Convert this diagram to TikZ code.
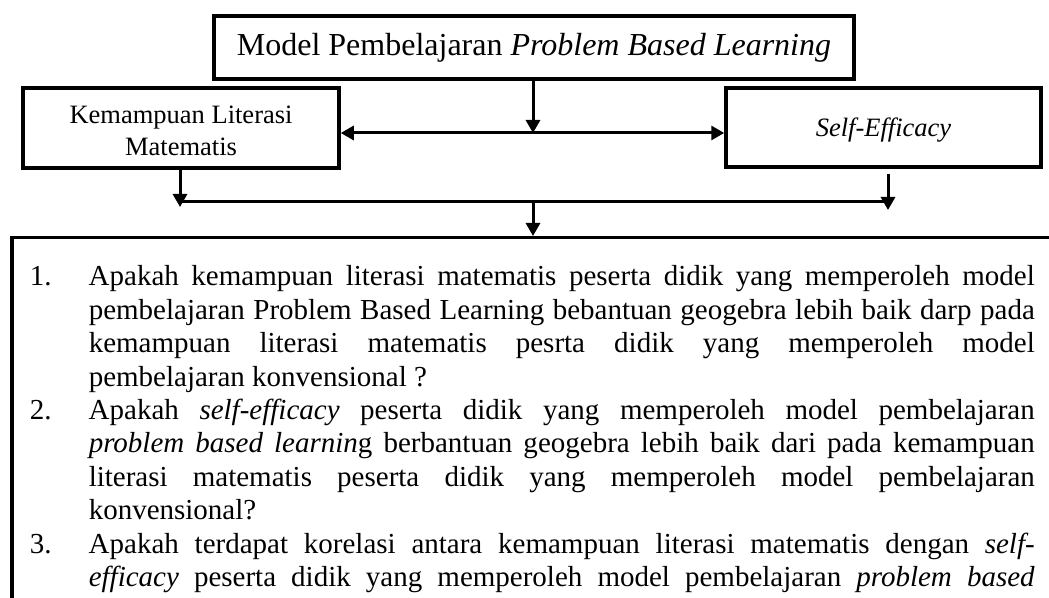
\documentclass[tikz,border=0pt]{standalone}
\usepackage{fontspec}
\setmainfont{Liberation Serif}
\usetikzlibrary{arrows.meta}
\newcommand\qitem[2]{\par\hangindent=59bp\hangafter=1\noindent\makebox[59bp][l]{#1}#2\par}
\begin{document}
\begin{tikzpicture}[x=1bp,y=-1bp,
  box/.style={draw, line width=3.5bp, inner sep=0pt, align=center},
  conn/.style={line width=3bp, -{Triangle[length=13bp,width=14bp]}},
  twoway/.style={line width=3bp, {Triangle[length=13bp,width=14bp]}-{Triangle[length=13bp,width=14bp]}},
  plain/.style={line width=3bp}]
\useasboundingbox (0,0) rectangle (1049,598);
\clip (0,0) rectangle (1049,598);
\node[box, minimum width=640bp, minimum height=63bp, font=\fontsize{32bp}{36bp}\selectfont] (model) at (534,47.5) {Model Pembelajaran \textit{Problem Based Learning}};
\node[box, minimum width=316bp, minimum height=80bp, font=\fontsize{26.5bp}{32bp}\selectfont] (klm) at (181,128) {\raisebox{-5bp}[\height][\depth]{\begin{tabular}{@{}c@{}}Kemampuan Literasi\\Matematis\end{tabular}}};
\node[box, minimum width=315bp, minimum height=79bp, font=\fontsize{26.5bp}{32bp}\selectfont\itshape] (se) at (883.5,127.5) {\raisebox{-3bp}[\height][\depth]{Self-Efficacy}};
\node[draw, line width=3.5bp, anchor=north west, inner xsep=18bp, inner ysep=28bp, font=\fontsize{29bp}{33.4bp}\selectfont] (q) at (10,236) {\parbox[t]{1005bp}{\hyphenpenalty=10000\tolerance=10000\spaceskip=7.25bp plus 12bp minus 4bp\relax
\qitem{1.}{Apakah kemampuan literasi matematis peserta didik yang memperoleh model\linebreak pembelajaran Problem Based Learning bebantuan geogebra lebih baik darp pada\linebreak kemampuan literasi matematis pesrta didik yang memperoleh model\linebreak pembelajaran konvensional ?}
\qitem{2.}{Apakah \textit{self-efficacy} peserta didik yang memperoleh model pembelajaran\linebreak \textit{problem based learnin}g berbantuan geogebra lebih baik dari pada kemampuan\linebreak literasi matematis peserta didik yang memperoleh model pembelajaran\linebreak konvensional?}
\qitem{3.}{Apakah terdapat korelasi antara kemampuan literasi matematis dengan \textit{self-}\linebreak \textit{efficacy} peserta didik yang memperoleh model pembelajaran \textit{problem based}\linebreak}}\hspace*{25bp}};
\coordinate (mid) at (533,133);
\coordinate (lt) at (180,207);
\coordinate (rt) at (888,210);
\coordinate (jl) at (180,202);
\coordinate (jr) at (888,202);
\coordinate (jm) at (533,202);
\draw[conn] (model.south -| mid) -- (mid);
\draw[twoway] (klm.east |- mid) -- (se.west |- mid);
\draw[conn] (klm.south -| lt) -- (lt);
\draw[conn] ([yshift=-5bp]se.south -| rt) -- (rt);
\draw[plain] (jl) -- (jr);
\draw[conn] (jm) -- (q.north -| jm);
\end{tikzpicture}
\end{document}
